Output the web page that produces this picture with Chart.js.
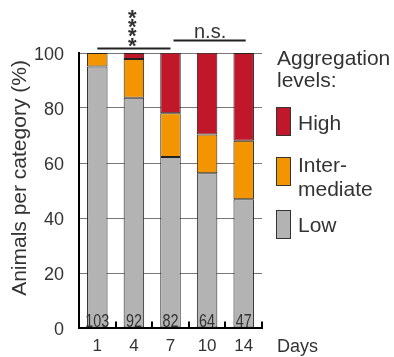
<!DOCTYPE html>
<html>
<head>
  <title>Aggregation levels</title>
  <script src="https://cdn.jsdelivr.net/npm/chart.js"></script>
  <style>
    body { margin: 0; background: #fff; }
    #wrap { width: 394px; height: 357px; }
  </style>
</head>
<body>
  <div id="wrap"><canvas id="myChart" width="394" height="357"></canvas></div>
  <script>
    var days = ['1', '4', '7', '10', '14'];
    var counts = [103, 92, 82, 64, 47];
    var lowValues = [95.1, 83.7, 62.2, 56.3, 46.8];
    var intermediateValues = [4.9, 14.1, 15.9, 14.1, 21.3];
    var highValues = [0, 2.2, 22.0, 29.7, 31.9];
    var yTicks = [0, 20, 40, 60, 80, 100];

    var FONT = 'Liberation Sans, Arial, sans-serif';
    var TEXT = '#333';
    var RED = '#c0182a';
    var ORANGE = '#f39500';
    var GREY = '#b3b3b3';

    // title, counts, significance marks and legend drawn by hand
    var extras = {
      id: 'extras',
      afterDraw: function(chart) {
        var ctx = chart.ctx;
        var xs = chart.scales.x;
        var ys = chart.scales.y;
        var area = chart.chartArea;
        ctx.save();
        ctx.fillStyle = TEXT;

        // y title
        ctx.save();
        ctx.translate(20.6, 178);
        ctx.rotate(-Math.PI / 2);
        ctx.font = '21px ' + FONT;
        ctx.textAlign = 'center';
        ctx.textBaseline = 'middle';
        ctx.fillText('Animals per category (%)', 0, 0);
        ctx.restore();

        // inward ticks between categories on the x axis
        ctx.strokeStyle = '#000';
        ctx.lineWidth = 2;
        ctx.beginPath();
        for (var t = 0; t < days.length; t++) {
          var bx = t < days.length - 1
            ? (xs.getPixelForValue(t) + xs.getPixelForValue(t + 1)) / 2
            : area.right;
          bx = Math.round(bx);
          ctx.moveTo(bx, area.bottom);
          ctx.lineTo(bx, area.bottom - 6.5);
        }
        ctx.stroke();

        // n per bar
        ctx.font = '18px ' + FONT;
        ctx.textAlign = 'center';
        ctx.textBaseline = 'alphabetic';
        for (var i = 0; i < counts.length; i++) {
          ctx.save();
          ctx.translate(xs.getPixelForValue(i), ys.getPixelForValue(0) - 1);
          ctx.scale(0.8, 1);
          ctx.fillText(String(counts[i]), 0, 0);
          ctx.restore();
        }

        // x axis name
        ctx.font = '18px ' + FONT;
        ctx.textAlign = 'left';
        ctx.fillText('Days', area.right + 15, 351.5);

        // significance brackets
        ctx.strokeStyle = '#222';
        ctx.lineWidth = 2;
        ctx.beginPath();
        ctx.moveTo(xs.getPixelForValue(0), area.top - 4.5);
        ctx.lineTo(xs.getPixelForValue(2), area.top - 4.5);
        ctx.moveTo(xs.getPixelForValue(2) + 3, area.top - 12.5);
        ctx.lineTo(xs.getPixelForValue(4) + 2, area.top - 12.5);
        ctx.stroke();

        ctx.font = 'bold 22px ' + FONT;
        ctx.textAlign = 'center';
        var sx = (xs.getPixelForValue(0) + xs.getPixelForValue(2)) / 2 - 1.5;
        var rows = [13.3, 21.7, 31, 41];
        for (var k = 0; k < rows.length; k++) {
          ctx.fillText('*', sx, rows[k] + 12);
        }
        ctx.font = '20px ' + FONT;
        ctx.fillText('n.s.', (xs.getPixelForValue(2) + xs.getPixelForValue(4)) / 2 + 3, 37.7);

        // legend
        var lx = area.right + 14;
        ctx.textAlign = 'left';
        ctx.font = '21px ' + FONT;
        ctx.fillText('Aggregation', lx + 1, 65);
        ctx.fillText('levels:', lx + 1, 87);
        var boxes = [[RED, 107], [ORANGE, 157], [GREY, 210]];
        ctx.lineWidth = 1;
        ctx.strokeStyle = '#333';
        for (var b = 0; b < boxes.length; b++) {
          ctx.fillStyle = boxes[b][0];
          ctx.fillRect(lx + 0.5, boxes[b][1] + 0.5, 14, 28);
          ctx.strokeRect(lx + 0.5, boxes[b][1] + 0.5, 14, 28);
        }
        ctx.fillStyle = TEXT;
        ctx.fillText('High', lx + 22, 130);
        ctx.fillText('Inter-', lx + 22, 171.7);
        ctx.fillText('mediate', lx + 22, 195.7);
        ctx.fillText('Low', lx + 22, 231.7);
        ctx.restore();
      }
    };

    var ctx = document.getElementById('myChart').getContext('2d');
    var myChart = new Chart(ctx, {
      type: 'bar',
      data: {
        labels: days,
        datasets: [
          { label: 'Low', data: lowValues, backgroundColor: GREY },
          { label: 'Intermediate', data: intermediateValues, backgroundColor: ORANGE },
          { label: 'High', data: highValues, backgroundColor: RED }
        ]
      },
      options: {
        responsive: false,
        animation: false,
        layout: { padding: { left: 0, right: 132, top: 53, bottom: 0 } },
        datasets: {
          bar: {
            categoryPercentage: 1,
            barPercentage: 0.56,
            borderColor: '#222',
            borderWidth: 1,
            borderSkipped: false
          }
        },
        plugins: {
          legend: { display: false },
          tooltip: { enabled: false }
        },
        scales: {
          x: {
            stacked: true,
            afterFit: function(scale) { scale.height = 29; },
            grid: { display: false, drawTicks: false },
            border: { display: true, color: '#000', width: 2 },
            ticks: {
              color: TEXT,
              font: { family: FONT, size: 17 },
              padding: 8
            }
          },
          y: {
            stacked: true,
            min: 0,
            max: 100,
            afterFit: function(scale) { scale.width = 79; },
            afterBuildTicks: function(scale) {
              scale.ticks = yTicks.map(function(v) { return { value: v }; });
            },
            grid: { color: '#777', lineWidth: 1, drawTicks: false },
            border: { display: true, color: '#000', width: 2 },
            ticks: {
              color: TEXT,
              font: { family: FONT, size: 18 },
              padding: 15,
              labelOffset: 2.5
            }
          }
        }
      },
      plugins: [extras]
    });
  </script>
</body>
</html>
